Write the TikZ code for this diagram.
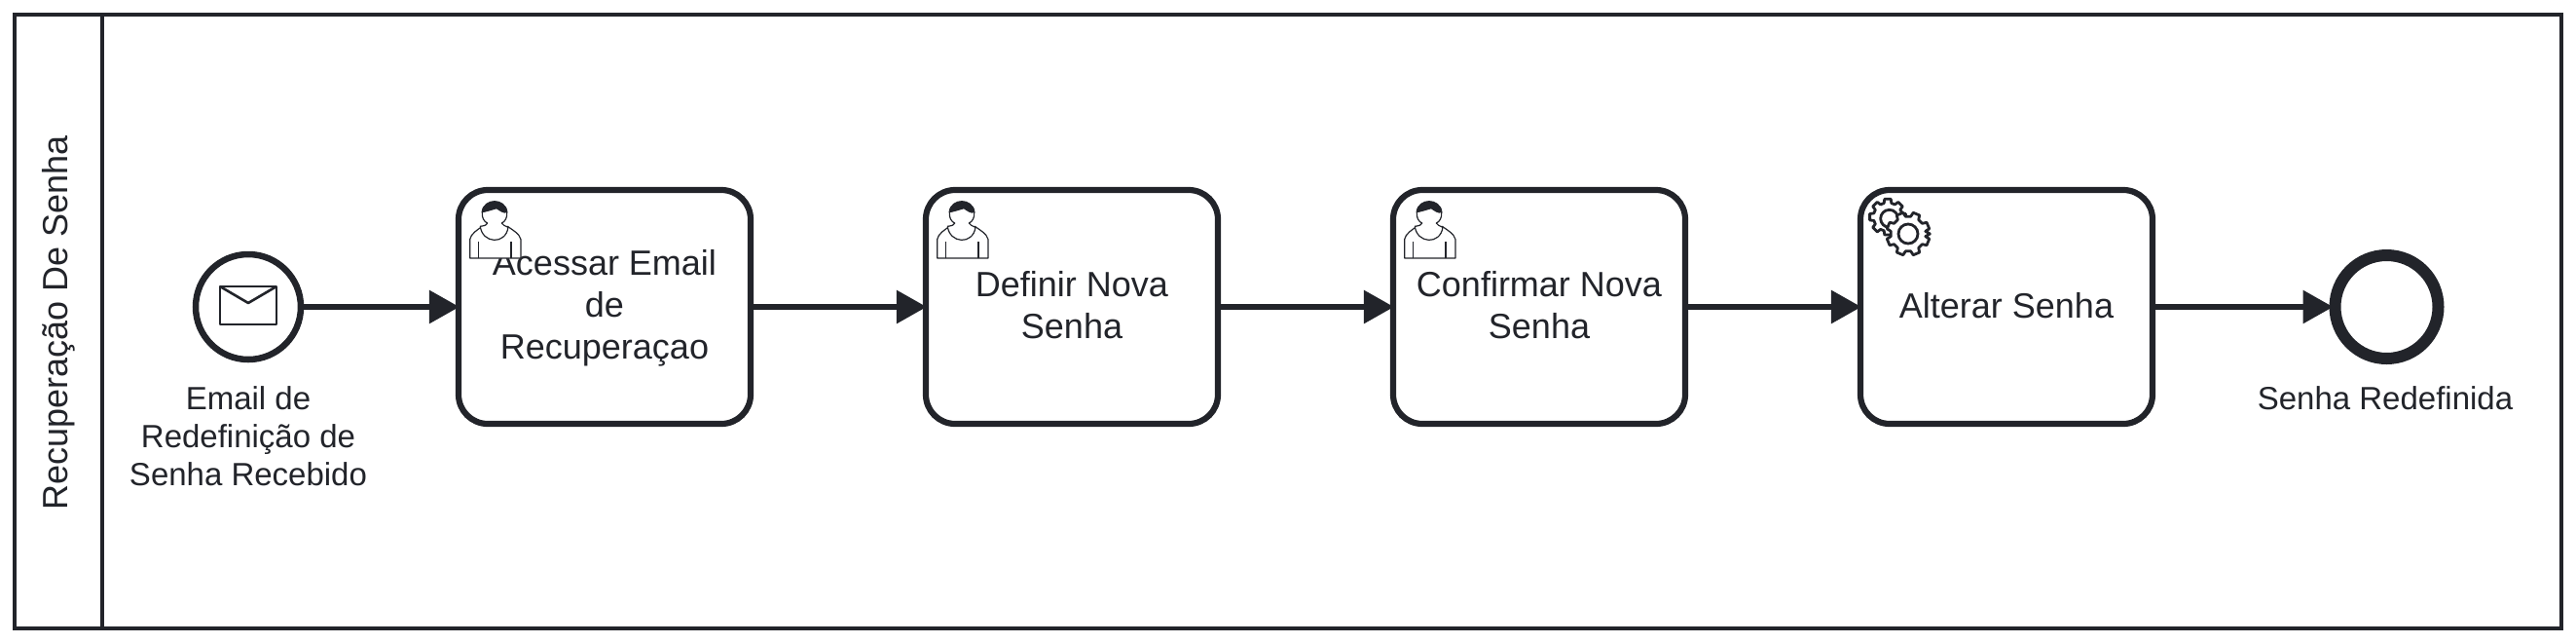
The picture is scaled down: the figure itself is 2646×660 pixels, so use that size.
\documentclass[tikz,border=0pt]{standalone}
\usepackage{fontspec}
\setmainfont{Liberation Sans}
\usetikzlibrary{arrows.meta}
\definecolor{ink}{HTML}{22242A}
\tikzset{
  x=0.5pt,y=-0.5pt,
  every node/.style={text=ink},
  lanebox/.style={draw=ink,line width=2.4pt,rectangle,minimum width=1308pt,minimum height=315pt,inner sep=0pt},
  lanetext/.style={font=\fontsize{18}{21.5}\selectfont,rotate=90,align=center},
  taskbox/.style={draw=ink,fill=white,line width=3.1pt,rectangle,rounded corners=15pt,minimum width=150pt,minimum height=120pt,inner sep=0pt},
  tasktext/.style={inner sep=0pt,align=center,font=\fontsize{18}{21.5}\selectfont},
  startev/.style={draw=ink,fill=white,circle,line width=3.25pt,minimum size=54pt,inner sep=0pt},
  endev/.style={draw=ink,fill=white,circle,line width=6pt,minimum size=53pt,inner sep=0pt},
  evlabel/.style={align=center,font=\fontsize{16.5}{19.5}\selectfont},
  flow/.style={draw=ink,line width=3pt,shorten >=-2pt,-{Triangle[length=15.5pt,width=16.5pt]}},
  iconline/.style={draw=ink,line width=0.6pt,line join=round},
  gearline/.style={draw=ink,fill=white,line width=1.4pt,line join=round},
  usericon/.pic={
    \begin{scope}[scale=1/3,shift={(-36,-30)}]
      \path[iconline,fill=white] (68,240) -- (68,182) .. controls (70,165) and (95,150) .. (106,142)
        .. controls (115,170) and (172,170) .. (184,142)
        .. controls (195,150) and (222,165) .. (225,182) -- (225,240) -- cycle;
      \path[iconline,fill=white] (106,98) .. controls (104,115) and (112,128) .. (122,132)
        .. controls (120,138) and (114,140) .. (100,142)
        .. controls (106,195) and (178,200) .. (186,145)
        .. controls (176,140) and (168,138) .. (166,132)
        .. controls (176,128) and (184,115) .. (182,98)
        .. controls (180,75) and (160,65) .. (144,65)
        .. controls (128,65) and (108,75) .. (106,98) -- cycle;
      \fill[ink] (104,100) .. controls (104,78) and (125,65) .. (144,65)
        .. controls (163,65) and (184,78) .. (184,100)
        .. controls (170,104) and (160,94) .. (150,88)
        .. controls (135,92) and (118,98) .. (104,100) -- cycle;
      \draw[iconline] (95,190) -- (95,240) (195,190) -- (195,240);
    \end{scope}
  },
  gearicon/.pic={
    \begin{scope}[scale=1/3,shift={(-36,-30)}]
      \path[gearline] (117+55,113)
        \foreach \a in {0,45,...,315} {
          -- ({117+44*cos(\a-15)},{113+44*sin(\a-15)})
          -- ({117+56*cos(\a-10)},{113+56*sin(\a-10)})
          -- ({117+56*cos(\a+10)},{113+56*sin(\a+10)})
          -- ({117+44*cos(\a+15)},{113+44*sin(\a+15)})
        } -- cycle;
      \draw[draw=ink,line width=1.4pt] (122,118) circle [radius=27];
      \path[gearline] (180+67,165)
        \foreach \a in {22.5,67.5,...,337.5} {
          -- ({180+54*cos(\a-14)},{165+54*sin(\a-14)})
          -- ({180+67*cos(\a-9)},{165+67*sin(\a-9)})
          -- ({180+67*cos(\a+9)},{165+67*sin(\a+9)})
          -- ({180+54*cos(\a+14)},{165+54*sin(\a+14)})
        } -- cycle;
      \draw[draw=ink,line width=1.4pt] (180,165) circle [radius=30];
    \end{scope}
  }
}
\begin{document}
\begin{tikzpicture}
\useasboundingbox (0,0) rectangle (2646,660);
\fill[white] (0,0) rectangle (2646,660);
\node[lanebox] (lane) at (1323,330) {};
\coordinate (divtop) at (105,15);
\coordinate (divbot) at (105,645);
\draw[draw=ink,line width=2.4pt] (divtop) -- (divbot);
\node[lanetext] (lanelabel) at (60,331) {Recuperação De Senha};

\node[startev] (start) at (255,315) {};
\node[evlabel] (startlabel) at (255,448) {Email de\\Redefinição de\\Senha Recebido};
\node[taskbox] (t1) at (621,315) {};
\node[taskbox] (t2) at (1101,315) {};
\node[taskbox] (t3) at (1581,315) {};
\node[taskbox] (t4) at (2061,315) {};
\node[tasktext] (t1text) at (621,316.75) {Acessar Email\\de\\Recuperaçao};
\node[tasktext] (t2text) at (1101,313) {Definir Nova\\Senha};
\node[tasktext] (t3text) at (1581,313) {Confirmar Nova\\Senha};
\node[tasktext] (t4text) at (2061,314) {Alterar Senha};
\node[endev] (end) at (2451.5,315) {};
\node[evlabel] (endlabel) at (2450,409) {Senha Redefinida};

\draw[flow] (start) -- (t1);
\draw[flow] (t1) -- (t2);
\draw[flow] (t2) -- (t3);
\draw[flow] (t3) -- (t4);
\draw[flow] (t4) -- (end);

% envelope
\draw[draw=ink,line width=1.4pt,line join=round] (226,294) rectangle (284,333);
\draw[draw=ink,line width=1.3pt,line join=round] (226,294) -- (255,311) -- (284,294);

\pic at (472,195) {usericon};
\pic at (952,195) {usericon};
\pic at (1432,195) {usericon};
\pic at (1912,195) {gearicon};
\end{tikzpicture}
\end{document}
